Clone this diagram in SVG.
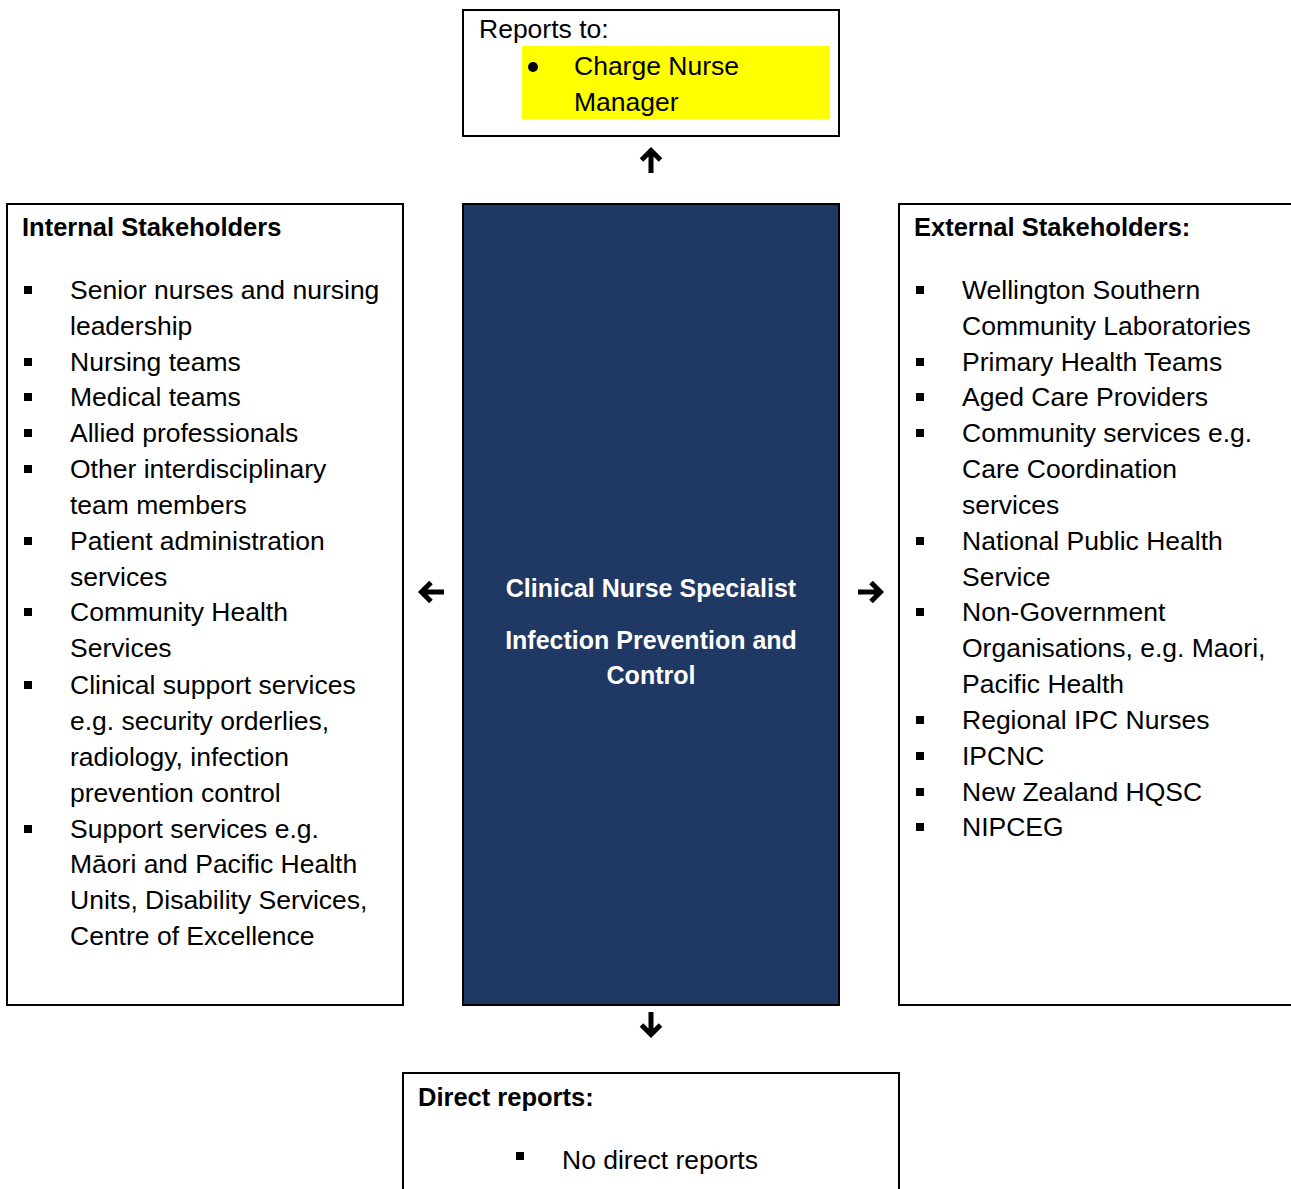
<svg xmlns="http://www.w3.org/2000/svg" width="1291" height="1189" viewBox="0 0 1291 1189">
  <style>
    .box { fill: #ffffff; stroke: #000000; stroke-width: 2; }
    .core { fill: #1f3864; stroke: #000000; stroke-width: 2; }
    .txt { font-family: "Liberation Sans", Arial, sans-serif; font-size: 26.5px; fill: #000000; }
    .hd { font-family: "Liberation Sans", Arial, sans-serif; font-size: 25.5px; font-weight: bold; fill: #000000; }
    .ctr { font-family: "Liberation Sans", Arial, sans-serif; font-size: 25px; font-weight: bold; fill: #ffffff; text-anchor: middle; }
    .sq { fill: #000000; }
    .arrow { fill: none; stroke: #000000; stroke-width: 5; stroke-linejoin: miter; }
  </style>
  <defs>
    <!-- upward-pointing block arrow, tip at (0,0) -->
    <g id="arrowUp">
      <path class="arrow" d="M0,3 V25 M-9.5,12 L0,2.5 L9.5,12"/>
    </g>
    <rect id="sqBullet" width="8" height="8" class="sq"/>
  </defs>

  <!-- Reports to -->
  <g id="reports-to">
    <rect class="box" x="463" y="10" width="376" height="126"/>
    <text class="txt" x="479" y="38">Reports to:</text>
    <rect x="522" y="46" width="308" height="73" fill="#ffff00"/>
    <circle cx="533" cy="67" r="5" fill="#000000"/>
    <text class="txt" x="574" y="75">Charge Nurse</text>
    <text class="txt" x="574" y="111">Manager</text>
  </g>

  <!-- Internal stakeholders -->
  <g id="internal">
    <rect class="box" x="7" y="204" width="396" height="801"/>
    <text class="hd" x="22" y="236">Internal Stakeholders</text>
    <g>
      <use href="#sqBullet" x="24" y="286"/>
      <use href="#sqBullet" x="24" y="358"/>
      <use href="#sqBullet" x="24" y="393"/>
      <use href="#sqBullet" x="24" y="429"/>
      <use href="#sqBullet" x="24" y="465"/>
      <use href="#sqBullet" x="24" y="537"/>
      <use href="#sqBullet" x="24" y="608"/>
      <use href="#sqBullet" x="24" y="681"/>
      <use href="#sqBullet" x="24" y="825"/>
    </g>
    <text class="txt" x="70" y="299">Senior nurses and nursing</text>
    <text class="txt" x="70" y="335">leadership</text>
    <text class="txt" x="70" y="371">Nursing teams</text>
    <text class="txt" x="70" y="406">Medical teams</text>
    <text class="txt" x="70" y="442">Allied professionals</text>
    <text class="txt" x="70" y="478">Other interdisciplinary</text>
    <text class="txt" x="70" y="514">team members</text>
    <text class="txt" x="70" y="550">Patient administration</text>
    <text class="txt" x="70" y="586">services</text>
    <text class="txt" x="70" y="621">Community Health</text>
    <text class="txt" x="70" y="657">Services</text>
    <text class="txt" x="70" y="694">Clinical support services</text>
    <text class="txt" x="70" y="730">e.g. security orderlies,</text>
    <text class="txt" x="70" y="766">radiology, infection</text>
    <text class="txt" x="70" y="802">prevention control</text>
    <text class="txt" x="70" y="838">Support services e.g.</text>
    <text class="txt" x="70" y="873">Māori and Pacific Health</text>
    <text class="txt" x="70" y="909">Units, Disability Services,</text>
    <text class="txt" x="70" y="945">Centre of Excellence</text>
  </g>

  <!-- Central role -->
  <g id="role">
    <rect class="core" x="463" y="204" width="376" height="801"/>
    <text class="ctr" x="651" y="597">Clinical Nurse Specialist</text>
    <text class="ctr" x="651" y="649">Infection Prevention and</text>
    <text class="ctr" x="651" y="684">Control</text>
  </g>

  <!-- External stakeholders -->
  <g id="external">
    <rect class="box" x="899" y="204" width="400" height="801"/>
    <text class="hd" x="914" y="236">External Stakeholders:</text>
    <g>
      <use href="#sqBullet" x="916" y="286"/>
      <use href="#sqBullet" x="916" y="358"/>
      <use href="#sqBullet" x="916" y="393"/>
      <use href="#sqBullet" x="916" y="429"/>
      <use href="#sqBullet" x="916" y="537"/>
      <use href="#sqBullet" x="916" y="608"/>
      <use href="#sqBullet" x="916" y="716"/>
      <use href="#sqBullet" x="916" y="752"/>
      <use href="#sqBullet" x="916" y="788"/>
      <use href="#sqBullet" x="916" y="823"/>
    </g>
    <text class="txt" x="962" y="299">Wellington Southern</text>
    <text class="txt" x="962" y="335">Community Laboratories</text>
    <text class="txt" x="962" y="371">Primary Health Teams</text>
    <text class="txt" x="962" y="406">Aged Care Providers</text>
    <text class="txt" x="962" y="442">Community services e.g.</text>
    <text class="txt" x="962" y="478">Care Coordination</text>
    <text class="txt" x="962" y="514">services</text>
    <text class="txt" x="962" y="550">National Public Health</text>
    <text class="txt" x="962" y="586">Service</text>
    <text class="txt" x="962" y="621">Non-Government</text>
    <text class="txt" x="962" y="657">Organisations, e.g. Maori,</text>
    <text class="txt" x="962" y="693">Pacific Health</text>
    <text class="txt" x="962" y="729">Regional IPC Nurses</text>
    <text class="txt" x="962" y="765">IPCNC</text>
    <text class="txt" x="962" y="801">New Zealand HQSC</text>
    <text class="txt" x="962" y="836">NIPCEG</text>
  </g>

  <!-- Direct reports -->
  <g id="direct-reports">
    <rect class="box" x="403" y="1073" width="496" height="130"/>
    <text class="hd" x="418" y="1106">Direct reports:</text>
    <use href="#sqBullet" x="516" y="1152"/>
    <text class="txt" x="562" y="1169">No direct reports</text>
  </g>

  <!-- Connectors -->
  <g id="connectors">
    <use href="#arrowUp" transform="translate(651,148)"/>
    <use href="#arrowUp" transform="translate(419,592) rotate(-90)"/>
    <use href="#arrowUp" transform="translate(883,592) rotate(90)"/>
    <use href="#arrowUp" transform="translate(651,1037) rotate(180)"/>
  </g>
</svg>
